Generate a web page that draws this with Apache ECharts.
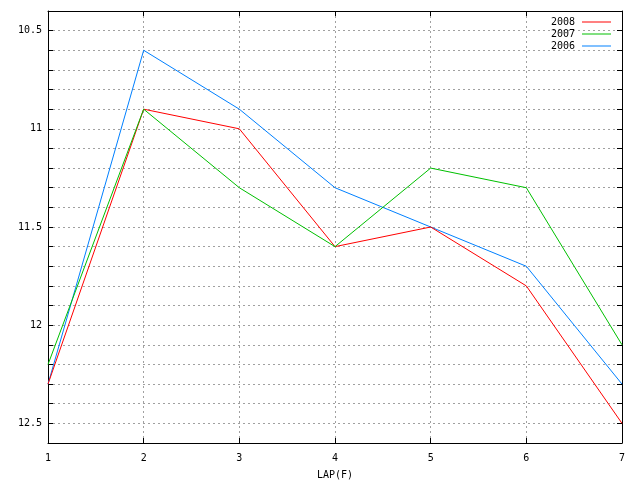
<!DOCTYPE html>
<html lang="en">
<head>
    <meta charset="UTF-8">
    <title>LAP(F)</title>
    <script src="https://cdn.jsdelivr.net/npm/echarts@6/dist/echarts.min.js"></script>
    <style>
        html, body { margin: 0; padding: 0; background: #fff; }
        #chart { width: 640px; height: 480px; }
    </style>
</head>
<body>
<div id="chart"></div>
<script>
    // lap numbers on the x axis
    var laps = [1, 2, 3, 4, 5, 6, 7];
    // lap times per year
    var s2008 = [12.3, 10.6, 10.9, 11.3, 11.5, 11.7, 12.3];
    var s2007 = [12.3, 10.9, 11.0, 11.6, 11.5, 11.8, 12.5];
    var s2006 = [12.2, 10.9, 11.3, 11.6, 11.2, 11.3, 12.1];
    var seriesNames = ['2008', '2007', '2006'];
    // gnuplot quirk: legend samples don't match the line colours
    var lineColors = ['#0080ff', '#ff0000', '#00c000'];
    var legendColors = ['#ff0000', '#00c000', '#0080ff'];

    var font = 'DejaVu Sans Mono';
    var gridLine = { show: true, lineStyle: { type: [2, 3], color: '#a0a0a0', width: 1 } };

    function pairs(vals) {
        return laps.map(function (x, i) { return [x, vals[i]]; });
    }
    function yLabel(v) {
        var r = Math.round(v * 10);
        return r % 5 === 0 ? String(r / 10) : '';
    }

    var allSeries = [s2008, s2007, s2006].map(function (vals, i) {
        return {
            name: seriesNames[i],
            type: 'line',
            data: pairs(vals),
            symbol: 'none',
            silent: true,
            animation: false,
            lineStyle: { color: lineColors[i], width: 1 },
            itemStyle: { color: lineColors[i] }
        };
    });

    var option = {
        backgroundColor: '#fff',
        animation: false,
        grid: { left: 48, right: 18, top: 11, bottom: 37, outerBoundsMode: 'none', containLabel: false },
        legend: {
            orient: 'vertical',
            right: 24,
            top: 12,
            align: 'right',
            icon: 'rect',
            itemWidth: 29,
            itemHeight: 1,
            itemGap: 2,
            selectedMode: false,
            textStyle: { fontFamily: font, fontSize: 10, color: '#000', padding: [0, 2, 0, 0] },
            data: seriesNames.map(function (n, i) {
                return { name: n, itemStyle: { color: legendColors[i] } };
            })
        },
        xAxis: [{
            type: 'value',
            min: 1, max: 7, interval: 1,
            name: 'LAP(F)',
            nameLocation: 'middle',
            nameGap: 27,
            nameTextStyle: { fontFamily: font, fontSize: 10, color: '#000' },
            axisLine: { show: true, onZero: false, lineStyle: { color: '#000', width: 1 } },
            axisTick: { show: true, inside: true, length: 5, lineStyle: { color: '#000' } },
            axisLabel: { fontFamily: font, fontSize: 10, color: '#000', margin: 10 },
            splitLine: gridLine
        }, {
            type: 'value',
            position: 'top',
            min: 1, max: 7, interval: 1,
            axisLine: { show: true, onZero: false, lineStyle: { color: '#000', width: 1 } },
            axisTick: { show: true, inside: true, length: 5, lineStyle: { color: '#000' } },
            axisLabel: { show: false },
            splitLine: { show: false }
        }],
        yAxis: [{
            type: 'value',
            inverse: true,
            min: 10.4, max: 12.6, interval: 0.1,
            axisLine: { show: true, onZero: false, lineStyle: { color: '#000', width: 1 } },
            axisTick: { show: true, inside: true, length: 5, lineStyle: { color: '#000' } },
            axisLabel: { fontFamily: font, fontSize: 10, color: '#000', margin: 6, formatter: yLabel },
            splitLine: gridLine
        }, {
            type: 'value',
            position: 'right',
            inverse: true,
            min: 10.4, max: 12.6, interval: 0.1,
            axisLine: { show: true, onZero: false, lineStyle: { color: '#000', width: 1 } },
            axisTick: { show: true, inside: true, length: 5, lineStyle: { color: '#000' } },
            axisLabel: { show: false },
            splitLine: { show: false }
        }],
        series: allSeries
    };

    var myChart = echarts.init(document.getElementById('chart'), null, { renderer: 'canvas' });
    myChart.setOption(option);
</script>
</body>
</html>
